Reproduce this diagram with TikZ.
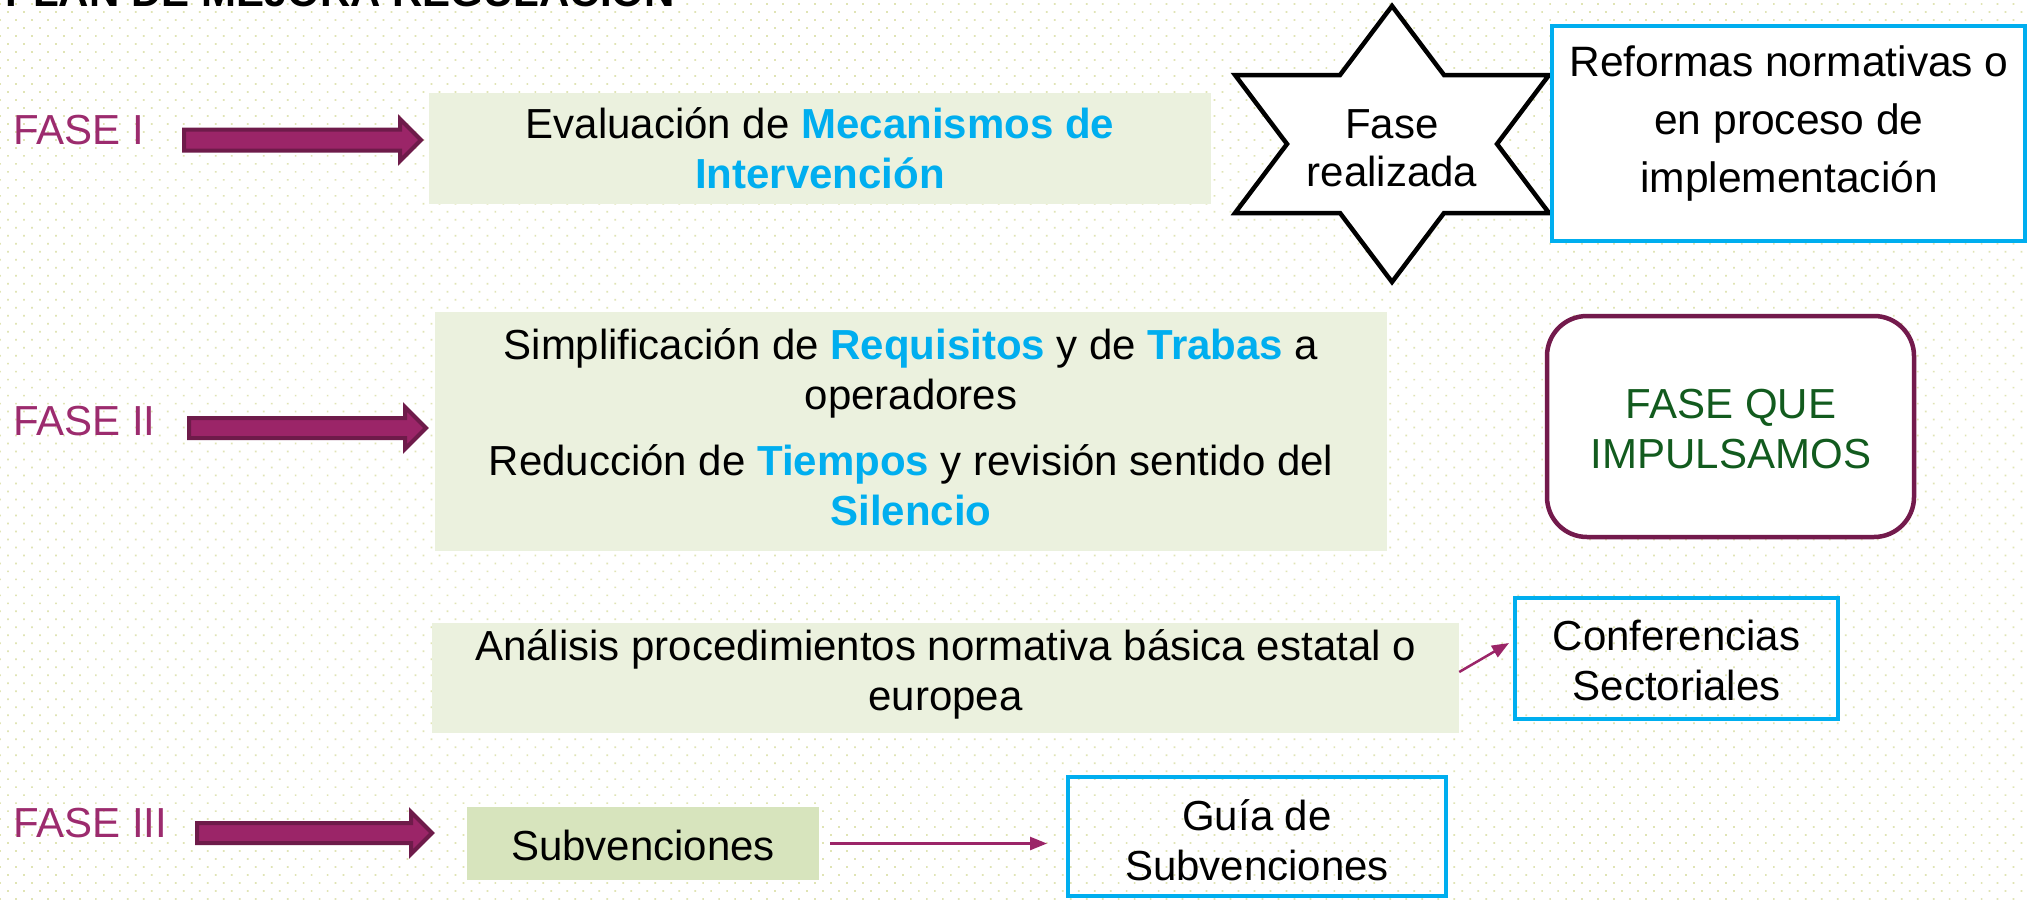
\documentclass[tikz,border=0pt]{standalone}
\usepackage{fontspec}
\setmainfont{Liberation Sans}
\usetikzlibrary{arrows.meta,patterns.meta,calc}
\definecolor{skyb}{HTML}{00AEEF}
\definecolor{palegreen}{HTML}{EBF1DE}
\definecolor{midgreen}{HTML}{D7E4BD}
\definecolor{magtext}{HTML}{9C2B6E}
\definecolor{magfill}{HTML}{9B2568}
\definecolor{magdark}{HTML}{6E1B4A}
\definecolor{purpborder}{HTML}{731A4C}
\definecolor{darkgreen}{HTML}{125B1E}
\definecolor{dotc}{HTML}{E0E4B4}
\tikzset{
  txt/.style={inner sep=0pt, align=center, font=\fontsize{42pt}{50pt}\selectfont},
  fase/.style={inner sep=0pt, anchor=west, text=magtext, font=\fontsize{42pt}{50pt}\selectfont},
  greenbox/.style={fill=palegreen, draw=none, inner sep=0pt},
  bluebox/.style={draw=skyb, line width=4pt, inner sep=0pt},
  fatarrow/.style={fill=magfill, draw=magdark, line width=4pt, line join=miter},
  thinarrow/.style={draw=magfill, line width=2.5pt, -{Triangle[length=17pt,width=13pt]}}
}
\newcommand{\hlt}[1]{\textcolor{skyb}{\textbf{#1}}}
\begin{document}
\begin{tikzpicture}[x=1pt,y=-1pt]
\useasboundingbox (0,0) rectangle (2028,899);
\fill[white] (0,0) rectangle (2028,899);
\fill[pattern={Dots[angle=45,distance=11.3pt,radius=1.2pt]}, pattern color=dotc] (0,0) rectangle (2028,899);

% title (cut off at top)
\node[inner sep=0pt, anchor=base west, font=\fontsize{42pt}{50pt}\selectfont\bfseries] (title) at (5,7) {PLAN DE MEJORA REGULACIÓN};

% FASE labels
\node[fase] (f1) at (13,130) {FASE I};
\node[fase] (f2) at (13,421) {FASE II};
\node[fase] (f3) at (13,823) {FASE III};

% fat arrows
\draw[fatarrow] (184,129.5) -- (400,129.5) -- (400,119) -- (421,140) -- (400,161) -- (400,150.5) -- (184,150.5) -- cycle;
\draw[fatarrow] (189,418) -- (405,418) -- (405,407) -- (426,428) -- (405,449) -- (405,438) -- (189,438) -- cycle;
\draw[fatarrow] (197,823) -- (411,823) -- (411,812) -- (432,833) -- (411,854) -- (411,843) -- (197,843) -- cycle;

% green boxes
\node[greenbox, minimum width=782pt, minimum height=111pt] (b1) at (820,148.5) {};
\node[txt] (b1t) at (820,148) {Evaluación de \hlt{Mecanismos de}\\\hlt{Intervención}};

\node[greenbox, minimum width=952pt, minimum height=239pt] (b2) at (911,431.5) {};
\node[txt] (b2t) at (911,427) {Simplificación de \hlt{Requisitos} y de \hlt{Trabas} a\\operadores\\[16pt]Reducción de \hlt{Tiempos} y revisión sentido del\\\hlt{Silencio}};

\node[greenbox, minimum width=1027pt, minimum height=110pt] (b3) at (945.5,678) {};
\node[txt] (b3t) at (945.5,674) {Análisis procedimientos normativa básica estatal o\\europea};

\node[inner sep=0pt, fill=midgreen, minimum width=352pt, minimum height=73pt] (subv) at (643,843.5) {};
\node[txt] (subvt) at (643,845) {Subvenciones};

% star
\draw[black, fill=white, line width=4.5pt, line join=miter]
  (1392,6) -- (1444,75) -- (1549,75) -- (1497,144) -- (1549,213) -- (1444,213)
  -- (1392,282) -- (1340,213) -- (1235,213) -- (1287,144) -- (1235,75) -- (1340,75) -- cycle;
\node[txt, font=\fontsize{42pt}{48pt}\selectfont] (star) at (1392,148) {Fase\\realizada};

% right boxes
\node[bluebox, fill=white, minimum width=473pt, minimum height=215pt] (ref) at (1788.5,133.5) {};
\node[txt, font=\fontsize{42.5pt}{58pt}\selectfont] (reft) at (1789,124) {Reformas normativas o\\en proceso de\\implementación};

\node[draw=purpborder, line width=4.5pt, fill=white, rounded corners=40pt, minimum width=367pt, minimum height=221pt] (imp) at (1730.5,426.5) {};
\node[txt, text=darkgreen] (impt) at (1731,429) {FASE QUE\\IMPULSAMOS};

\node[bluebox, minimum width=323pt, minimum height=121pt] (conf) at (1676.5,658.5) {};
\node[txt] (conft) at (1676.5,660) {Conferencias\\Sectoriales};

\node[bluebox, minimum width=378pt, minimum height=119pt] (guia) at (1257,836.5) {};
\node[txt] (guiat) at (1257,840) {Guía de\\Subvenciones};

% thin arrows
\draw[thinarrow] ($(b3.east)+(0,-6)$) -- ($(conf.west)+(-4,-15.5)$);
\draw[thinarrow, shorten <=11pt, shorten >=19pt] (subv.east) -- (guia.west |- subv.east);
\end{tikzpicture}
\end{document}
